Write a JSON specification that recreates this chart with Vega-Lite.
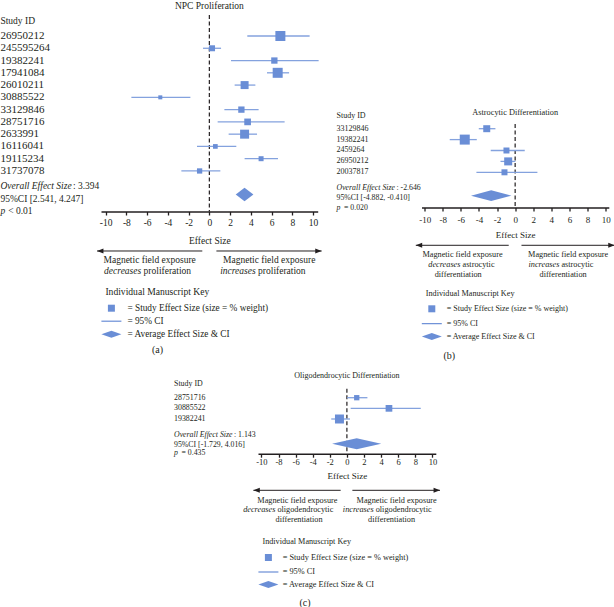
{
"$schema": "https://vega.github.io/schema/vega-lite/v6.json",
"padding": 0,
"background": "white",
"config": {
  "view": {"stroke": null},
  "font": "Liberation Serif",
  "text": {"font": "Liberation Serif", "color": "#231f20", "baseline": "middle", "align": "left"},
  "title": {"font": "Liberation Serif", "fontWeight": "normal", "color": "#231f20"},
  "axis": {"domainColor": "#231f20", "domainWidth": 1.4, "tickColor": "#231f20", "tickWidth": 1.3, "tickSize": 3.5, "labelFont": "Liberation Serif", "labelColor": "#231f20", "titleFont": "Liberation Serif", "titleFontWeight": "normal", "titleColor": "#231f20", "grid": false, "labelFlush": false, "labelOverlap": false},
  "legend": {"titleFont": "Liberation Serif", "labelFont": "Liberation Serif", "titleFontWeight": "normal", "titleColor": "#231f20", "labelColor": "#231f20", "labelLimit": 400, "titleLimit": 400}
},
"datasets": {
  "one": [{}],
  "none": [],
  "studiesA": [
    {"id": "26950212", "row": 1, "est": 6.85, "lo": 3.66, "hi": 9.67, "weight": 16.8},
    {"id": "245595264", "row": 2, "est": 0.26, "lo": -0.61, "hi": 1.13, "weight": 6.0},
    {"id": "19382241", "row": 3, "est": 6.27, "lo": 2.09, "hi": 10.54, "weight": 6.7},
    {"id": "17941084", "row": 4, "est": 6.59, "lo": 5.56, "hi": 7.69, "weight": 16.8},
    {"id": "26010211", "row": 5, "est": 3.40, "lo": 2.44, "hi": 4.44, "weight": 10.7},
    {"id": "30885522", "row": 6, "est": -4.73, "lo": -7.52, "hi": -1.83, "weight": 2.7},
    {"id": "33129846", "row": 7, "est": 3.09, "lo": 1.45, "hi": 4.75, "weight": 6.7},
    {"id": "28751716", "row": 8, "est": 3.69, "lo": 0.80, "hi": 7.26, "weight": 7.5},
    {"id": "2633991", "row": 9, "est": 3.40, "lo": 1.86, "hi": 4.60, "weight": 13.6},
    {"id": "16116041", "row": 10, "est": 0.58, "lo": -1.19, "hi": 2.60, "weight": 3.7},
    {"id": "19115234", "row": 11, "est": 4.99, "lo": 3.40, "hi": 6.62, "weight": 4.2},
    {"id": "31737078", "row": 12, "est": -0.94, "lo": -2.70, "hi": 1.06, "weight": 4.7}
  ],
  "summaryA": [{"est": 3.394, "lo": 2.541, "hi": 4.247, "p": "< 0.01"}],
  "studiesB": [
    {"id": "33129846", "row": 1, "est": -3.14, "lo": -4.02, "hi": -2.18, "weight": 17.2},
    {"id": "19382241", "row": 2, "est": -5.57, "lo": -7.23, "hi": -4.24, "weight": 35.1},
    {"id": "2459264", "row": 3, "est": -0.96, "lo": -2.70, "hi": 1.06, "weight": 12.6},
    {"id": "26950212", "row": 4, "est": -0.77, "lo": -1.62, "hi": 0.03, "weight": 22.5},
    {"id": "20037817", "row": 5, "est": -1.18, "lo": -4.28, "hi": 2.46, "weight": 12.6}
  ],
  "summaryB": [{"est": -2.646, "lo": -4.882, "hi": -0.410, "p": "= 0.020"}],
  "studiesC": [
    {"id": "28751716", "row": 1, "est": 1.15, "lo": 0.01, "hi": 2.40, "weight": 18.2},
    {"id": "30885522", "row": 2, "est": 4.92, "lo": 0.44, "hi": 8.64, "weight": 29.2},
    {"id": "19382241", "row": 3, "est": -0.87, "lo": -1.83, "hi": 0.36, "weight": 52.6}
  ],
  "summaryC": [{"est": 1.143, "lo": -1.729, "hi": 4.016, "p": "= 0.435"}]
},
"spacing": 9,
"bounds": "full",
"resolve": {"scale": {"x": "independent", "y": "independent", "shape": "independent", "size": "independent"}, "axis": {"x": "independent", "y": "independent"}, "legend": {"shape": "independent", "size": "independent"}},
"vconcat": [
{
  "hconcat": [
  {
    "width": 216.7, "height": 340,
    "title": {"text": "(a)", "orient": "bottom", "frame": "bounds", "anchor": "middle", "offset": 3, "dx": -3.7, "fontSize": 10},
    "layer": [
      {"data": {"name": "one"},
       "mark": {"type": "rule", "color": "#231f20", "strokeWidth": 1.2, "strokeDash": [4, 2.5]},
       "encoding": {
         "x": {"datum": 0, "type": "quantitative", "scale": {"domain": [-10.45, 10.45], "nice": false, "zero": false},
               "axis": {"title": "Effect Size", "values": [-10, -8, -6, -4, -2, 0, 2, 4, 6, 8, 10], "tickCount": 11, "offset": -130.5, "labelOverlap": false, "labelBound": false, "labelFontSize": 9.5, "labelPadding": 2.4, "titleFontSize": 9.5, "titlePadding": 8.3, "labelExpr": "replace(datum.label, '\u2212', '-')", "encode": {"ticks": {"update": {"y": {"value": -3.5}}}}}},
         "y": {"datum": -0.711, "type": "quantitative", "scale": {"domain": [-1.771, 25.939], "reverse": true, "nice": false, "zero": false}, "axis": null},
         "y2": {"datum": 15.303}}},
      {"data": {"name": "studiesA"},
       "mark": {"type": "rule", "color": "#84a2de", "strokeWidth": 1.3},
       "encoding": {"x": {"field": "lo", "type": "quantitative"}, "x2": {"field": "hi"}, "y": {"field": "row", "type": "quantitative", "axis": null}}},
      {"data": {"name": "studiesA"},
       "mark": {"type": "point", "filled": true, "color": "#6a8ed6", "opacity": 1},
       "encoding": {
         "x": {"field": "est", "type": "quantitative"},
         "y": {"field": "row", "type": "quantitative", "axis": null},
         "size": {"field": "weight", "type": "quantitative", "scale": {"domain": [0, 16.8], "range": [0, 204]}, "legend": null},
         "shape": {"datum": "= Study Effect Size (size = % weight)", "type": "nominal",
           "scale": {"domain": ["= Study Effect Size (size = % weight)", "= 95% CI", "= Average Effect Size & CI"], "range": ["M-0.7,-0.7H0.7V0.7H-0.7Z", "M-2,-0.12H2V0.12H-2Z", "M-2,0L0,-0.7L2,0L0,0.7Z"]},
           "legend": {"orient": "none", "direction": "vertical", "legendX": 4.4, "legendY": 284.7, "title": "Individual Manuscript Key", "titleFontSize": 9.6, "titlePadding": 5.9, "labelFontSize": 9.3, "labelOffset": 10, "rowPadding": 0, "symbolSize": 100}}}},
      {"data": {"name": "summaryA"},
       "transform": [{"fold": ["lo", "est", "hi"], "as": ["pt", "xv"]}, {"calculate": "datum.pt == 'est' ? 0.554 : 0", "as": "half"}, {"calculate": "13.918 - datum.half", "as": "top"}, {"calculate": "13.918 + datum.half", "as": "bot"}],
       "mark": {"type": "area", "color": "#6a8ed6", "opacity": 1},
       "encoding": {"x": {"field": "xv", "type": "quantitative"}, "y": {"field": "top", "type": "quantitative", "axis": null}, "y2": {"field": "bot"}}},
      {"data": {"name": "studiesA"},
       "mark": {"type": "text", "fontSize": 11},
       "encoding": {"x": {"datum": -20.151, "type": "quantitative"}, "y": {"field": "row", "type": "quantitative", "axis": null}, "text": {"field": "id"}}},
      {"data": {"name": "one"},
       "mark": {"type": "text", "text": "Study ID", "fontSize": 9.5},
       "encoding": {"x": {"datum": -20.151, "type": "quantitative"}, "y": {"datum": -0.222, "type": "quantitative", "axis": null}}},
      {"data": {"name": "one"},
       "mark": {"type": "text", "text": "NPC Proliferation", "fontSize": 9.5, "align": "center"},
       "encoding": {"x": {"datum": 0, "type": "quantitative"}, "y": {"datum": -1.445, "type": "quantitative", "axis": null}}},
      {"data": {"name": "one"},
       "mark": {"type": "text", "text": "Overall Effect Size", "fontStyle": "italic", "fontSize": 9.5},
       "encoding": {"x": {"datum": -20.151, "type": "quantitative"}, "y": {"datum": 13.225, "type": "quantitative", "axis": null}}},
      {"data": {"name": "summaryA"},
       "transform": [{"calculate": "': ' + replace(format(datum.est, '.3f'), '\u2212', '-')", "as": "lab"}],
       "mark": {"type": "text", "fontSize": 9.5, "dx": 72.5},
       "encoding": {"x": {"datum": -20.151, "type": "quantitative"}, "y": {"datum": 13.225, "type": "quantitative", "axis": null}, "text": {"field": "lab"}}},
      {"data": {"name": "summaryA"},
       "transform": [{"calculate": "'95%CI [' + replace(format(datum.lo, '.3f'), '\u2212', '-') + ', ' + replace(format(datum.hi, '.3f'), '\u2212', '-') + ']'", "as": "lab"}],
       "mark": {"type": "text", "fontSize": 9.5},
       "encoding": {"x": {"datum": -20.151, "type": "quantitative"}, "y": {"datum": 14.284, "type": "quantitative", "axis": null}, "text": {"field": "lab"}}},
      {"data": {"name": "one"},
       "mark": {"type": "text", "text": "p", "fontStyle": "italic", "fontSize": 9.5},
       "encoding": {"x": {"datum": -20.151, "type": "quantitative"}, "y": {"datum": 15.263, "type": "quantitative", "axis": null}}},
      {"data": {"name": "summaryA"},
       "mark": {"type": "text", "fontSize": 9.5, "dx": 7.8},
       "encoding": {"x": {"datum": -20.151, "type": "quantitative"}, "y": {"datum": 15.263, "type": "quantitative", "axis": null}, "text": {"field": "p"}}},
      {"data": {"name": "one"},
       "mark": {"type": "rule", "color": "#231f20", "strokeWidth": 1},
       "encoding": {"x": {"datum": -10.83, "type": "quantitative"}, "x2": {"datum": -0.68}, "y": {"datum": 18.522, "type": "quantitative", "axis": null}}},
      {"data": {"name": "one"},
       "mark": {"type": "rule", "color": "#231f20", "strokeWidth": 1},
       "encoding": {"x": {"datum": 0.68, "type": "quantitative"}, "x2": {"datum": 10.83}, "y": {"datum": 18.522, "type": "quantitative", "axis": null}}},
      {"data": {"name": "one"},
       "mark": {"type": "point", "shape": "M0,0L2,-0.8L2,0.8Z", "filled": true, "color": "#231f20", "opacity": 1, "size": 41},
       "encoding": {"x": {"datum": -10.83, "type": "quantitative"}, "y": {"datum": 18.522, "type": "quantitative", "axis": null}}},
      {"data": {"name": "one"},
       "mark": {"type": "point", "shape": "M0,0L-2,-0.8L-2,0.8Z", "filled": true, "color": "#231f20", "opacity": 1, "size": 41},
       "encoding": {"x": {"datum": 10.83, "type": "quantitative"}, "y": {"datum": 18.522, "type": "quantitative", "axis": null}}},
      {"data": {"name": "one"},
       "mark": {"type": "text", "text": "Magnetic field exposure", "fontSize": 9.5, "align": "center"},
       "encoding": {"x": {"datum": -5.76, "type": "quantitative"}, "y": {"datum": 19.28, "type": "quantitative", "axis": null}}},
      {"data": {"name": "one"},
       "mark": {"type": "text", "text": "Magnetic field exposure", "fontSize": 9.5, "align": "center"},
       "encoding": {"x": {"datum": 5.77, "type": "quantitative"}, "y": {"datum": 19.28, "type": "quantitative", "axis": null}}},
      {"data": {"name": "one"},
       "mark": {"type": "text", "text": "decreases", "fontStyle": "italic", "fontSize": 9.5, "align": "right", "dx": -2.4},
       "encoding": {"x": {"datum": -6.34, "type": "quantitative"}, "y": {"datum": 20.177, "type": "quantitative", "axis": null}}},
      {"data": {"name": "one"},
       "mark": {"type": "text", "text": "proliferation", "fontSize": 9.5},
       "encoding": {"x": {"datum": -6.34, "type": "quantitative"}, "y": {"datum": 20.177, "type": "quantitative", "axis": null}}},
      {"data": {"name": "one"},
       "mark": {"type": "text", "text": "increases", "fontStyle": "italic", "fontSize": 9.5, "align": "right", "dx": -2.4},
       "encoding": {"x": {"datum": 4.70, "type": "quantitative"}, "y": {"datum": 20.177, "type": "quantitative", "axis": null}}},
      {"data": {"name": "one"},
       "mark": {"type": "text", "text": "proliferation", "fontSize": 9.5},
       "encoding": {"x": {"datum": 4.70, "type": "quantitative"}, "y": {"datum": 20.177, "type": "quantitative", "axis": null}}}
    ]
  },
  {
    "width": 187.3, "height": 340,
    "title": {"text": "(b)", "orient": "bottom", "frame": "bounds", "anchor": "middle", "offset": 8.2, "dx": -26.5, "fontSize": 10},
    "layer": [
      {"data": {"name": "one"},
       "mark": {"type": "rule", "color": "#231f20", "strokeWidth": 1.2, "strokeDash": [4, 2.5]},
       "encoding": {
         "x": {"datum": 0, "type": "quantitative", "scale": {"domain": [-10.35, 10.35], "nice": false, "zero": false},
               "axis": {"title": "Effect Size", "values": [-10, -8, -6, -4, -2, 0, 2, 4, 6, 8, 10], "tickCount": 11, "offset": -134.5, "labelOverlap": false, "labelBound": false, "labelFontSize": 9, "labelPadding": 4.5, "titleFontSize": 9, "titlePadding": 5.7, "labelExpr": "replace(datum.label, '\u2212', '-')", "encode": {"ticks": {"update": {"y": {"value": -3.5}}}}}},
         "y": {"datum": 0.569, "type": "quantitative", "scale": {"domain": [-10.624, 20.569], "reverse": true, "nice": false, "zero": false}, "axis": null},
         "y2": {"datum": 8.229}}},
      {"data": {"name": "studiesB"},
       "mark": {"type": "rule", "color": "#84a2de", "strokeWidth": 1.3},
       "encoding": {"x": {"field": "lo", "type": "quantitative"}, "x2": {"field": "hi"}, "y": {"field": "row", "type": "quantitative", "axis": null}}},
      {"data": {"name": "studiesB"},
       "mark": {"type": "point", "filled": true, "color": "#6a8ed6", "opacity": 1},
       "encoding": {
         "x": {"field": "est", "type": "quantitative"},
         "y": {"field": "row", "type": "quantitative", "axis": null},
         "size": {"field": "weight", "type": "quantitative", "scale": {"domain": [0, 35.1], "range": [0, 204]}, "legend": null},
         "shape": {"datum": "= Study Effect Size (size = % weight)", "type": "nominal",
           "scale": {"domain": ["= Study Effect Size (size = % weight)", "= 95% CI", "= Average Effect Size & CI"], "range": ["M-0.7,-0.7H0.7V0.7H-0.7Z", "M-2,-0.12H2V0.12H-2Z", "M-2,0L0,-0.7L2,0L0,0.7Z"]},
           "legend": {"orient": "none", "direction": "vertical", "legendX": 4.3, "legendY": 288, "title": "Individual Manuscript Key", "titleFontSize": 8.2, "titlePadding": 4.6, "labelFontSize": 8, "labelOffset": 9, "rowPadding": 1.85, "symbolSize": 100}}}},
      {"data": {"name": "summaryB"},
       "transform": [{"fold": ["lo", "est", "hi"], "as": ["pt", "xv"]}, {"calculate": "datum.pt == 'est' ? 0.491 : 0", "as": "half"}, {"calculate": "7.147 - datum.half", "as": "top"}, {"calculate": "7.147 + datum.half", "as": "bot"}],
       "mark": {"type": "area", "color": "#6a8ed6", "opacity": 1},
       "encoding": {"x": {"field": "xv", "type": "quantitative"}, "y": {"field": "top", "type": "quantitative", "axis": null}, "y2": {"field": "bot"}}},
      {"data": {"name": "studiesB"},
       "mark": {"type": "text", "fontSize": 8},
       "encoding": {"x": {"datum": -19.744, "type": "quantitative"}, "y": {"field": "row", "type": "quantitative", "axis": null}, "text": {"field": "id"}}},
      {"data": {"name": "one"},
       "mark": {"type": "text", "text": "Study ID", "fontSize": 8},
       "encoding": {"x": {"datum": -19.744, "type": "quantitative"}, "y": {"datum": -0.165, "type": "quantitative", "axis": null}}},
      {"data": {"name": "one"},
       "mark": {"type": "text", "text": "Astrocytic Differentiation", "fontSize": 8.3, "align": "center"},
       "encoding": {"x": {"datum": 0, "type": "quantitative"}, "y": {"datum": -0.44, "type": "quantitative", "axis": null}}},
      {"data": {"name": "one"},
       "mark": {"type": "text", "text": "Overall Effect Size", "fontStyle": "italic", "fontSize": 7.8},
       "encoding": {"x": {"datum": -19.744, "type": "quantitative"}, "y": {"datum": 6.44, "type": "quantitative", "axis": null}}},
      {"data": {"name": "summaryB"},
       "transform": [{"calculate": "': ' + replace(format(datum.est, '.3f'), '\u2212', '-')", "as": "lab"}],
       "mark": {"type": "text", "fontSize": 7.8, "dx": 60},
       "encoding": {"x": {"datum": -19.744, "type": "quantitative"}, "y": {"datum": 6.44, "type": "quantitative", "axis": null}, "text": {"field": "lab"}}},
      {"data": {"name": "summaryB"},
       "transform": [{"calculate": "'95%CI [' + replace(format(datum.lo, '.3f'), '\u2212', '-') + ', ' + replace(format(datum.hi, '.3f'), '\u2212', '-') + ']'", "as": "lab"}],
       "mark": {"type": "text", "fontSize": 7.8},
       "encoding": {"x": {"datum": -19.744, "type": "quantitative"}, "y": {"datum": 7.33, "type": "quantitative", "axis": null}, "text": {"field": "lab"}}},
      {"data": {"name": "one"},
       "mark": {"type": "text", "text": "p", "fontStyle": "italic", "fontSize": 7.8},
       "encoding": {"x": {"datum": -19.744, "type": "quantitative"}, "y": {"datum": 8.275, "type": "quantitative", "axis": null}}},
      {"data": {"name": "summaryB"},
       "mark": {"type": "text", "fontSize": 7.8, "dx": 7.5},
       "encoding": {"x": {"datum": -19.744, "type": "quantitative"}, "y": {"datum": 8.275, "type": "quantitative", "axis": null}, "text": {"field": "p"}}},
      {"data": {"name": "one"},
       "mark": {"type": "rule", "color": "#231f20", "strokeWidth": 1},
       "encoding": {"x": {"datum": -10.98, "type": "quantitative"}, "x2": {"datum": -0.71}, "y": {"datum": 11.697, "type": "quantitative", "axis": null}}},
      {"data": {"name": "one"},
       "mark": {"type": "rule", "color": "#231f20", "strokeWidth": 1},
       "encoding": {"x": {"datum": 0.70, "type": "quantitative"}, "x2": {"datum": 11.0}, "y": {"datum": 11.697, "type": "quantitative", "axis": null}}},
      {"data": {"name": "one"},
       "mark": {"type": "point", "shape": "M0,0L2,-0.8L2,0.8Z", "filled": true, "color": "#231f20", "opacity": 1, "size": 41},
       "encoding": {"x": {"datum": -10.98, "type": "quantitative"}, "y": {"datum": 11.697, "type": "quantitative", "axis": null}}},
      {"data": {"name": "one"},
       "mark": {"type": "point", "shape": "M0,0L-2,-0.8L-2,0.8Z", "filled": true, "color": "#231f20", "opacity": 1, "size": 41},
       "encoding": {"x": {"datum": 11.0, "type": "quantitative"}, "y": {"datum": 11.697, "type": "quantitative", "axis": null}}},
      {"data": {"name": "one"},
       "mark": {"type": "text", "text": "Magnetic field exposure", "fontSize": 8.25, "align": "center"},
       "encoding": {"x": {"datum": -5.82, "type": "quantitative"}, "y": {"datum": 12.587, "type": "quantitative", "axis": null}}},
      {"data": {"name": "one"},
       "mark": {"type": "text", "text": "Magnetic field exposure", "fontSize": 8.25, "align": "center"},
       "encoding": {"x": {"datum": 5.86, "type": "quantitative"}, "y": {"datum": 12.587, "type": "quantitative", "axis": null}}},
      {"data": {"name": "one"},
       "mark": {"type": "text", "text": "decreases", "fontStyle": "italic", "fontSize": 8.25, "align": "right", "dx": -2},
       "encoding": {"x": {"datum": -5.82, "type": "quantitative"}, "y": {"datum": 13.477, "type": "quantitative", "axis": null}}},
      {"data": {"name": "one"},
       "mark": {"type": "text", "text": "astrocytic", "fontSize": 8.25},
       "encoding": {"x": {"datum": -5.82, "type": "quantitative"}, "y": {"datum": 13.477, "type": "quantitative", "axis": null}}},
      {"data": {"name": "one"},
       "mark": {"type": "text", "text": "increases", "fontStyle": "italic", "fontSize": 8.25, "align": "right", "dx": -2},
       "encoding": {"x": {"datum": 5.11, "type": "quantitative"}, "y": {"datum": 13.477, "type": "quantitative", "axis": null}}},
      {"data": {"name": "one"},
       "mark": {"type": "text", "text": "astrocytic", "fontSize": 8.25},
       "encoding": {"x": {"datum": 5.11, "type": "quantitative"}, "y": {"datum": 13.477, "type": "quantitative", "axis": null}}},
      {"data": {"name": "one"},
       "mark": {"type": "text", "text": "differentiation", "fontSize": 8.25, "align": "center"},
       "encoding": {"x": {"datum": -6.30, "type": "quantitative"}, "y": {"datum": 14.45, "type": "quantitative", "axis": null}}},
      {"data": {"name": "one"},
       "mark": {"type": "text", "text": "differentiation", "fontSize": 8.25, "align": "center"},
       "encoding": {"x": {"datum": 5.30, "type": "quantitative"}, "y": {"datum": 14.45, "type": "quantitative", "axis": null}}}
    ]
  }
  ],
  "spacing": 13.5,
  "bounds": "full",
  "resolve": {"scale": {"x": "independent", "y": "independent", "shape": "independent", "size": "independent"}, "axis": {"x": "independent", "y": "independent"}, "legend": {"shape": "independent", "size": "independent"}}
},
{
  "hconcat": [
  {
    "width": 71.6, "height": 1,
    "data": {"name": "none"},
    "mark": {"type": "point", "opacity": 0}
  },
  {
    "width": 177.8, "height": 220,
    "title": {"text": "(c)", "orient": "bottom", "frame": "bounds", "anchor": "middle", "offset": 5.5, "dx": -2.3, "fontSize": 10},
    "layer": [
      {"data": {"name": "one"},
       "mark": {"type": "rule", "color": "#231f20", "strokeWidth": 1.2, "strokeDash": [4, 2.5]},
       "encoding": {
         "x": {"datum": 0, "type": "quantitative", "scale": {"domain": [-10.4, 10.4], "nice": false, "zero": false},
               "axis": {"title": "Effect Size", "values": [-10, -8, -6, -4, -2, 0, 2, 4, 6, 8, 10], "tickCount": 11, "offset": -138.3, "labelOverlap": false, "labelBound": false, "labelFontSize": 8.5, "labelPadding": 0.5, "titleFontSize": 9, "titlePadding": 5.2, "labelExpr": "replace(datum.label, '\u2212', '-')", "encode": {"ticks": {"update": {"y": {"value": -3.5}}}}}},
         "y": {"datum": 0.155, "type": "quantitative", "scale": {"domain": [-1.413, 19.244], "reverse": true, "nice": false, "zero": false}, "axis": null},
         "y2": {"datum": 6.258}}},
      {"data": {"name": "studiesC"},
       "mark": {"type": "rule", "color": "#84a2de", "strokeWidth": 1.3},
       "encoding": {"x": {"field": "lo", "type": "quantitative"}, "x2": {"field": "hi"}, "y": {"field": "row", "type": "quantitative", "axis": null}}},
      {"data": {"name": "studiesC"},
       "mark": {"type": "point", "filled": true, "color": "#6a8ed6", "opacity": 1},
       "encoding": {
         "x": {"field": "est", "type": "quantitative"},
         "y": {"field": "row", "type": "quantitative", "axis": null},
         "size": {"field": "weight", "type": "quantitative", "scale": {"domain": [0, 52.6], "range": [0, 165]}, "legend": null},
         "shape": {"datum": "= Study Effect Size (size = % weight)", "type": "nominal",
           "scale": {"domain": ["= Study Effect Size (size = % weight)", "= 95% CI", "= Average Effect Size & CI"], "range": ["M-0.7,-0.7H0.7V0.7H-0.7Z", "M-2,-0.12H2V0.12H-2Z", "M-2,0L0,-0.7L2,0L0,0.7Z"]},
           "legend": {"orient": "none", "direction": "vertical", "legendX": 4.4, "legendY": 165.5, "title": "Individual Manuscript Key", "titleFontSize": 8.2, "titlePadding": 5.8, "labelFontSize": 8.3, "labelOffset": 8.3, "rowPadding": 1.5, "symbolSize": 100}}}},
      {"data": {"name": "summaryC"},
       "transform": [{"fold": ["lo", "est", "hi"], "as": ["pt", "xv"]}, {"calculate": "datum.pt == 'est' ? 0.516 : 0", "as": "half"}, {"calculate": "5.319 - datum.half", "as": "top"}, {"calculate": "5.319 + datum.half", "as": "bot"}],
       "mark": {"type": "area", "color": "#6a8ed6", "opacity": 1},
       "encoding": {"x": {"field": "xv", "type": "quantitative"}, "y": {"field": "top", "type": "quantitative", "axis": null}, "y2": {"field": "bot"}}},
      {"data": {"name": "studiesC"},
       "mark": {"type": "text", "fontSize": 7.9},
       "encoding": {"x": {"datum": -20.227, "type": "quantitative"}, "y": {"field": "row", "type": "quantitative", "axis": null}, "text": {"field": "id"}}},
      {"data": {"name": "one"},
       "mark": {"type": "text", "text": "Study ID", "fontSize": 7.9},
       "encoding": {"x": {"datum": -20.227, "type": "quantitative"}, "y": {"datum": -0.258, "type": "quantitative", "axis": null}}},
      {"data": {"name": "one"},
       "mark": {"type": "text", "text": "Oligodendrocytic Differentiation", "fontSize": 8, "align": "center"},
       "encoding": {"x": {"datum": 0, "type": "quantitative"}, "y": {"datum": -1.038, "type": "quantitative", "axis": null}}},
      {"data": {"name": "one"},
       "mark": {"type": "text", "text": "Overall Effect Size", "fontStyle": "italic", "fontSize": 7.8},
       "encoding": {"x": {"datum": -20.227, "type": "quantitative"}, "y": {"datum": 4.531, "type": "quantitative", "axis": null}}},
      {"data": {"name": "summaryC"},
       "transform": [{"calculate": "': ' + replace(format(datum.est, '.3f'), '\u2212', '-')", "as": "lab"}],
       "mark": {"type": "text", "fontSize": 7.8, "dx": 60},
       "encoding": {"x": {"datum": -20.227, "type": "quantitative"}, "y": {"datum": 4.531, "type": "quantitative", "axis": null}, "text": {"field": "lab"}}},
      {"data": {"name": "summaryC"},
       "transform": [{"calculate": "'95%CI [' + replace(format(datum.lo, '.3f'), '\u2212', '-') + ', ' + replace(format(datum.hi, '.3f'), '\u2212', '-') + ']'", "as": "lab"}],
       "mark": {"type": "text", "fontSize": 7.8},
       "encoding": {"x": {"datum": -20.227, "type": "quantitative"}, "y": {"datum": 5.469, "type": "quantitative", "axis": null}, "text": {"field": "lab"}}},
      {"data": {"name": "one"},
       "mark": {"type": "text", "text": "p", "fontStyle": "italic", "fontSize": 7.8},
       "encoding": {"x": {"datum": -20.227, "type": "quantitative"}, "y": {"datum": 6.164, "type": "quantitative", "axis": null}}},
      {"data": {"name": "summaryC"},
       "mark": {"type": "text", "fontSize": 7.8, "dx": 7.5},
       "encoding": {"x": {"datum": -20.227, "type": "quantitative"}, "y": {"datum": 6.164, "type": "quantitative", "axis": null}, "text": {"field": "p"}}},
      {"data": {"name": "one"},
       "mark": {"type": "rule", "color": "#231f20", "strokeWidth": 1},
       "encoding": {"x": {"datum": -10.94, "type": "quantitative"}, "x2": {"datum": -0.73}, "y": {"datum": 9.695, "type": "quantitative", "axis": null}}},
      {"data": {"name": "one"},
       "mark": {"type": "rule", "color": "#231f20", "strokeWidth": 1},
       "encoding": {"x": {"datum": 0.64, "type": "quantitative"}, "x2": {"datum": 10.89}, "y": {"datum": 9.695, "type": "quantitative", "axis": null}}},
      {"data": {"name": "one"},
       "mark": {"type": "point", "shape": "M0,0L2,-0.8L2,0.8Z", "filled": true, "color": "#231f20", "opacity": 1, "size": 41},
       "encoding": {"x": {"datum": -10.94, "type": "quantitative"}, "y": {"datum": 9.695, "type": "quantitative", "axis": null}}},
      {"data": {"name": "one"},
       "mark": {"type": "point", "shape": "M0,0L-2,-0.8L-2,0.8Z", "filled": true, "color": "#231f20", "opacity": 1, "size": 41},
       "encoding": {"x": {"datum": 10.89, "type": "quantitative"}, "y": {"datum": 9.695, "type": "quantitative", "axis": null}}},
      {"data": {"name": "one"},
       "mark": {"type": "text", "text": "Magnetic field exposure", "fontSize": 8.25, "align": "center"},
       "encoding": {"x": {"datum": -5.79, "type": "quantitative"}, "y": {"datum": 10.7, "type": "quantitative", "axis": null}}},
      {"data": {"name": "one"},
       "mark": {"type": "text", "text": "Magnetic field exposure", "fontSize": 8.25, "align": "center"},
       "encoding": {"x": {"datum": 5.82, "type": "quantitative"}, "y": {"datum": 10.7, "type": "quantitative", "axis": null}}},
      {"data": {"name": "one"},
       "mark": {"type": "text", "text": "decreases", "fontStyle": "italic", "fontSize": 8.25, "align": "right", "dx": -2},
       "encoding": {"x": {"datum": -8.13, "type": "quantitative"}, "y": {"datum": 11.573, "type": "quantitative", "axis": null}}},
      {"data": {"name": "one"},
       "mark": {"type": "text", "text": "oligodendrocytic", "fontSize": 8.25},
       "encoding": {"x": {"datum": -8.13, "type": "quantitative"}, "y": {"datum": 11.573, "type": "quantitative", "axis": null}}},
      {"data": {"name": "one"},
       "mark": {"type": "text", "text": "increases", "fontStyle": "italic", "fontSize": 8.25, "align": "right", "dx": -2},
       "encoding": {"x": {"datum": 3.37, "type": "quantitative"}, "y": {"datum": 11.573, "type": "quantitative", "axis": null}}},
      {"data": {"name": "one"},
       "mark": {"type": "text", "text": "oligodendrocytic", "fontSize": 8.25},
       "encoding": {"x": {"datum": 3.37, "type": "quantitative"}, "y": {"datum": 11.573, "type": "quantitative", "axis": null}}},
      {"data": {"name": "one"},
       "mark": {"type": "text", "text": "differentiation", "fontSize": 8.25, "align": "center"},
       "encoding": {"x": {"datum": -5.6, "type": "quantitative"}, "y": {"datum": 12.455, "type": "quantitative", "axis": null}}},
      {"data": {"name": "one"},
       "mark": {"type": "text", "text": "differentiation", "fontSize": 8.25, "align": "center"},
       "encoding": {"x": {"datum": 5.22, "type": "quantitative"}, "y": {"datum": 12.455, "type": "quantitative", "axis": null}}}
    ]
  }
  ],
  "spacing": 0,
  "bounds": "full",
  "resolve": {"scale": {"x": "independent", "y": "independent", "shape": "independent", "size": "independent"}, "axis": {"x": "independent", "y": "independent"}, "legend": {"shape": "independent", "size": "independent"}}
}
]
}
